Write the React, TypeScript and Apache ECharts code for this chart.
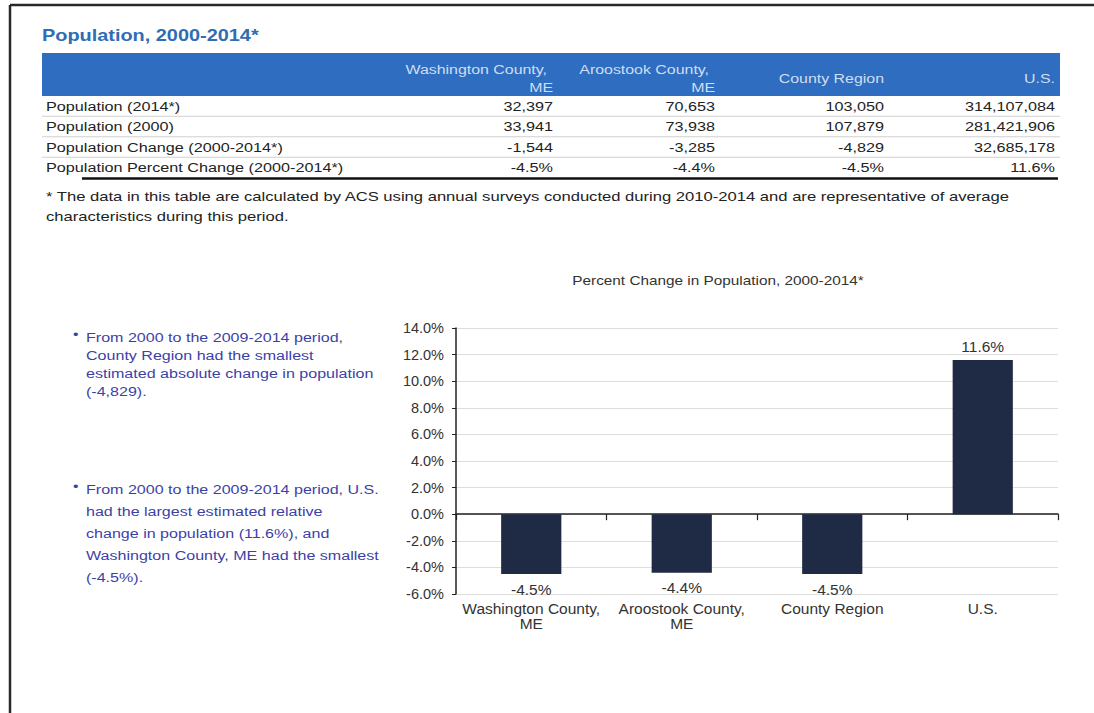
import React, { useEffect, useRef } from "react";
import * as echarts from "echarts";

// ---------- data ----------
const tableTitle = "Population, 2000-2014*";
const columnHeaders = [
  ["Washington County,", "ME"],
  ["Aroostook County,", "ME"],
  ["County Region"],
  ["U.S."],
];
const rowLabels = [
  "Population (2014*)",
  "Population (2000)",
  "Population Change (2000-2014*)",
  "Population Percent Change (2000-2014*)",
];
const pop2014 = [32397, 70653, 103050, 314107084];
const pop2000 = [33941, 73938, 107879, 281421906];
const popChange = [-1544, -3285, -4829, 32685178];
const pctChange = [-4.5, -4.4, -4.5, 11.6];

const footnoteLines = [
  "* The data in this table are calculated by ACS using annual surveys conducted during 2010-2014 and are representative of average",
  "characteristics during this period.",
];

const chartTitle = "Percent Change in Population, 2000-2014*";
const categories = ["Washington County,\nME", "Aroostook County,\nME", "County Region", "U.S."];
const percentChange = [-4.5, -4.4, -4.5, 11.6];
const yMin = -6;
const yMax = 14;
const yInterval = 2;

const bullets = [
  [
    "From 2000 to the 2009-2014 period,",
    "County Region had the smallest",
    "estimated absolute change in population",
    "(-4,829).",
  ],
  [
    "From 2000 to the 2009-2014 period, U.S.",
    "had the largest estimated relative",
    "change in population (11.6%), and",
    "Washington County, ME had the smallest",
    "(-4.5%).",
  ],
];

// ---------- styles ----------
const FONT = "'Liberation Sans', Arial, Helvetica, sans-serif";
const BLUE = "#2e6dbf";
const TEXT = "#222222";
const BULLET_COLOR = "#3d3fa8";
const BAR_COLOR = "#1f2a44";

const colRights = [553, 715, 884, 1055];
const rowY = [106, 126.5, 147, 167.5];

function fmtNum(v: number) {
  return v.toLocaleString("en-US");
}
function fmtPct(v: number) {
  return v.toFixed(1) + "%";
}

function txt(
  x: number,
  y: number,
  text: string,
  size: number,
  sx: number,
  fill: string,
  align: string = "left",
  weight: string = "normal"
) {
  return {
    type: "text",
    x,
    y,
    scaleX: sx,
    style: {
      text,
      fill,
      font: `${weight} ${size}px ${FONT}`,
      textAlign: align,
      textVerticalAlign: "middle",
    },
  };
}

export default function App() {
  const ref = useRef<HTMLDivElement>(null);

  useEffect(() => {
    if (!ref.current) return;
    const chart = echarts.init(ref.current, undefined, { renderer: "svg" });

    const g: any[] = [];
    // page frame
    g.push({ type: "line", shape: { x1: 10, y1: 5, x2: 1094, y2: 5 }, style: { stroke: "#2a2a2a", lineWidth: 2.5 } });
    g.push({ type: "line", shape: { x1: 10, y1: 5, x2: 10, y2: 713 }, style: { stroke: "#2a2a2a", lineWidth: 2.5 } });

    // table title
    g.push(txt(42, 35, tableTitle, 17, 1.17, "#2f6db5", "left", "bold"));
    // header band
    g.push({ type: "rect", shape: { x: 42, y: 53, width: 1018, height: 43 }, style: { fill: BLUE } });
    const HC = "#cfdef2";
    columnHeaders.forEach((h, i) => {
      if (h.length === 2) {
        g.push(txt(colRights[i] - 6, 69, h[0], 13.5, 1.18, HC, "right"));
        g.push(txt(colRights[i], 87, h[1], 13.5, 1.18, HC, "right"));
      } else {
        g.push(txt(colRights[i], 78, h[0], 13.5, 1.18, HC, "right"));
      }
    });
    // rows
    const rows = [pop2014.map(fmtNum), pop2000.map(fmtNum), popChange.map(fmtNum), pctChange.map(fmtPct)];
    rowLabels.forEach((lab, r) => {
      g.push(txt(46, rowY[r], lab, 13.5, 1.2, TEXT));
      rows[r].forEach((v, c) => {
        g.push(txt(colRights[c], rowY[r], v, 13.5, 1.2, TEXT, "right"));
      });
      if (r < 3) {
        const ly = (rowY[r] + rowY[r + 1]) / 2;
        g.push({ type: "line", shape: { x1: 42, y1: ly, x2: 1060, y2: ly }, style: { stroke: "#d0d0d0", lineWidth: 1 } });
      }
    });
    g.push({ type: "line", shape: { x1: 82, y1: 178.5, x2: 1058, y2: 178.5 }, style: { stroke: "#111", lineWidth: 2.5 } });
    footnoteLines.forEach((t, i) => {
      g.push(txt(46, 196 + i * 20, t, 13.5, 1.23, TEXT));
    });

    // chart title
    g.push(txt(718, 280, chartTitle, 13, 1.18, "#333", "center"));

    // bullets
    const bulletStart = [337, 489];
    const bulletSpacing = [18.3, 22];
    bullets.forEach((lines, b) => {
      g.push(txt(73, bulletStart[b] - 3, "•", 13, 1.2, BULLET_COLOR));
      lines.forEach((ln, i) => {
        g.push(txt(86, bulletStart[b] + i * bulletSpacing[b], ln, 13.5, 1.19, BULLET_COLOR));
      });
    });

    chart.setOption({
      animation: false,
      backgroundColor: "#ffffff",
      textStyle: { fontFamily: FONT },
      grid: { left: 456, top: 328, width: 602, height: 266, containLabel: false },
      xAxis: [
        {
          type: "category",
          data: categories,
          position: "bottom",
          axisLine: { show: true, onZero: true, lineStyle: { color: "#222", width: 1.5 } },
          axisTick: { show: true, length: 6, lineStyle: { color: "#222", width: 1.2 } },
          axisLabel: { show: false },
          splitLine: { show: false },
        },
        {
          type: "category",
          data: categories,
          position: "bottom",
          axisLine: { show: false, onZero: false },
          axisTick: { show: false },
          axisLabel: { show: true, color: "#333", fontSize: 15.5, lineHeight: 15, margin: 7, interval: 0 },
          splitLine: { show: false },
        },
      ],
      yAxis: {
        type: "value",
        min: yMin,
        max: yMax,
        interval: yInterval,
        axisLine: { show: true, lineStyle: { color: "#222", width: 1.5 } },
        axisTick: { show: true, length: 4, lineStyle: { color: "#222" } },
        axisLabel: { color: "#333", fontSize: 14.5, margin: 12, formatter: (v: number) => v.toFixed(1) + "%" },
        splitLine: { show: true, lineStyle: { color: "#dedede", width: 1 } },
      },
      series: [
        {
          type: "bar",
          xAxisIndex: 0,
          barWidth: "40%",
          itemStyle: { color: BAR_COLOR },
          data: percentChange.map((v) => ({
            value: v,
            label: { position: v >= 0 ? "top" : "bottom", distance: v >= 0 ? 5 : 7 },
          })),
          label: {
            show: true,
            color: "#333",
            fontSize: 15.5,
            formatter: (p: any) => fmtPct(p.value),
          },
        },
      ],
      graphic: g,
    });

    return () => chart.dispose();
  }, []);

  return (
    <div
      ref={ref}
      style={{ position: "absolute", left: 0, top: 0, width: 1094, height: 713, background: "#fff" }}
    />
  );
}
